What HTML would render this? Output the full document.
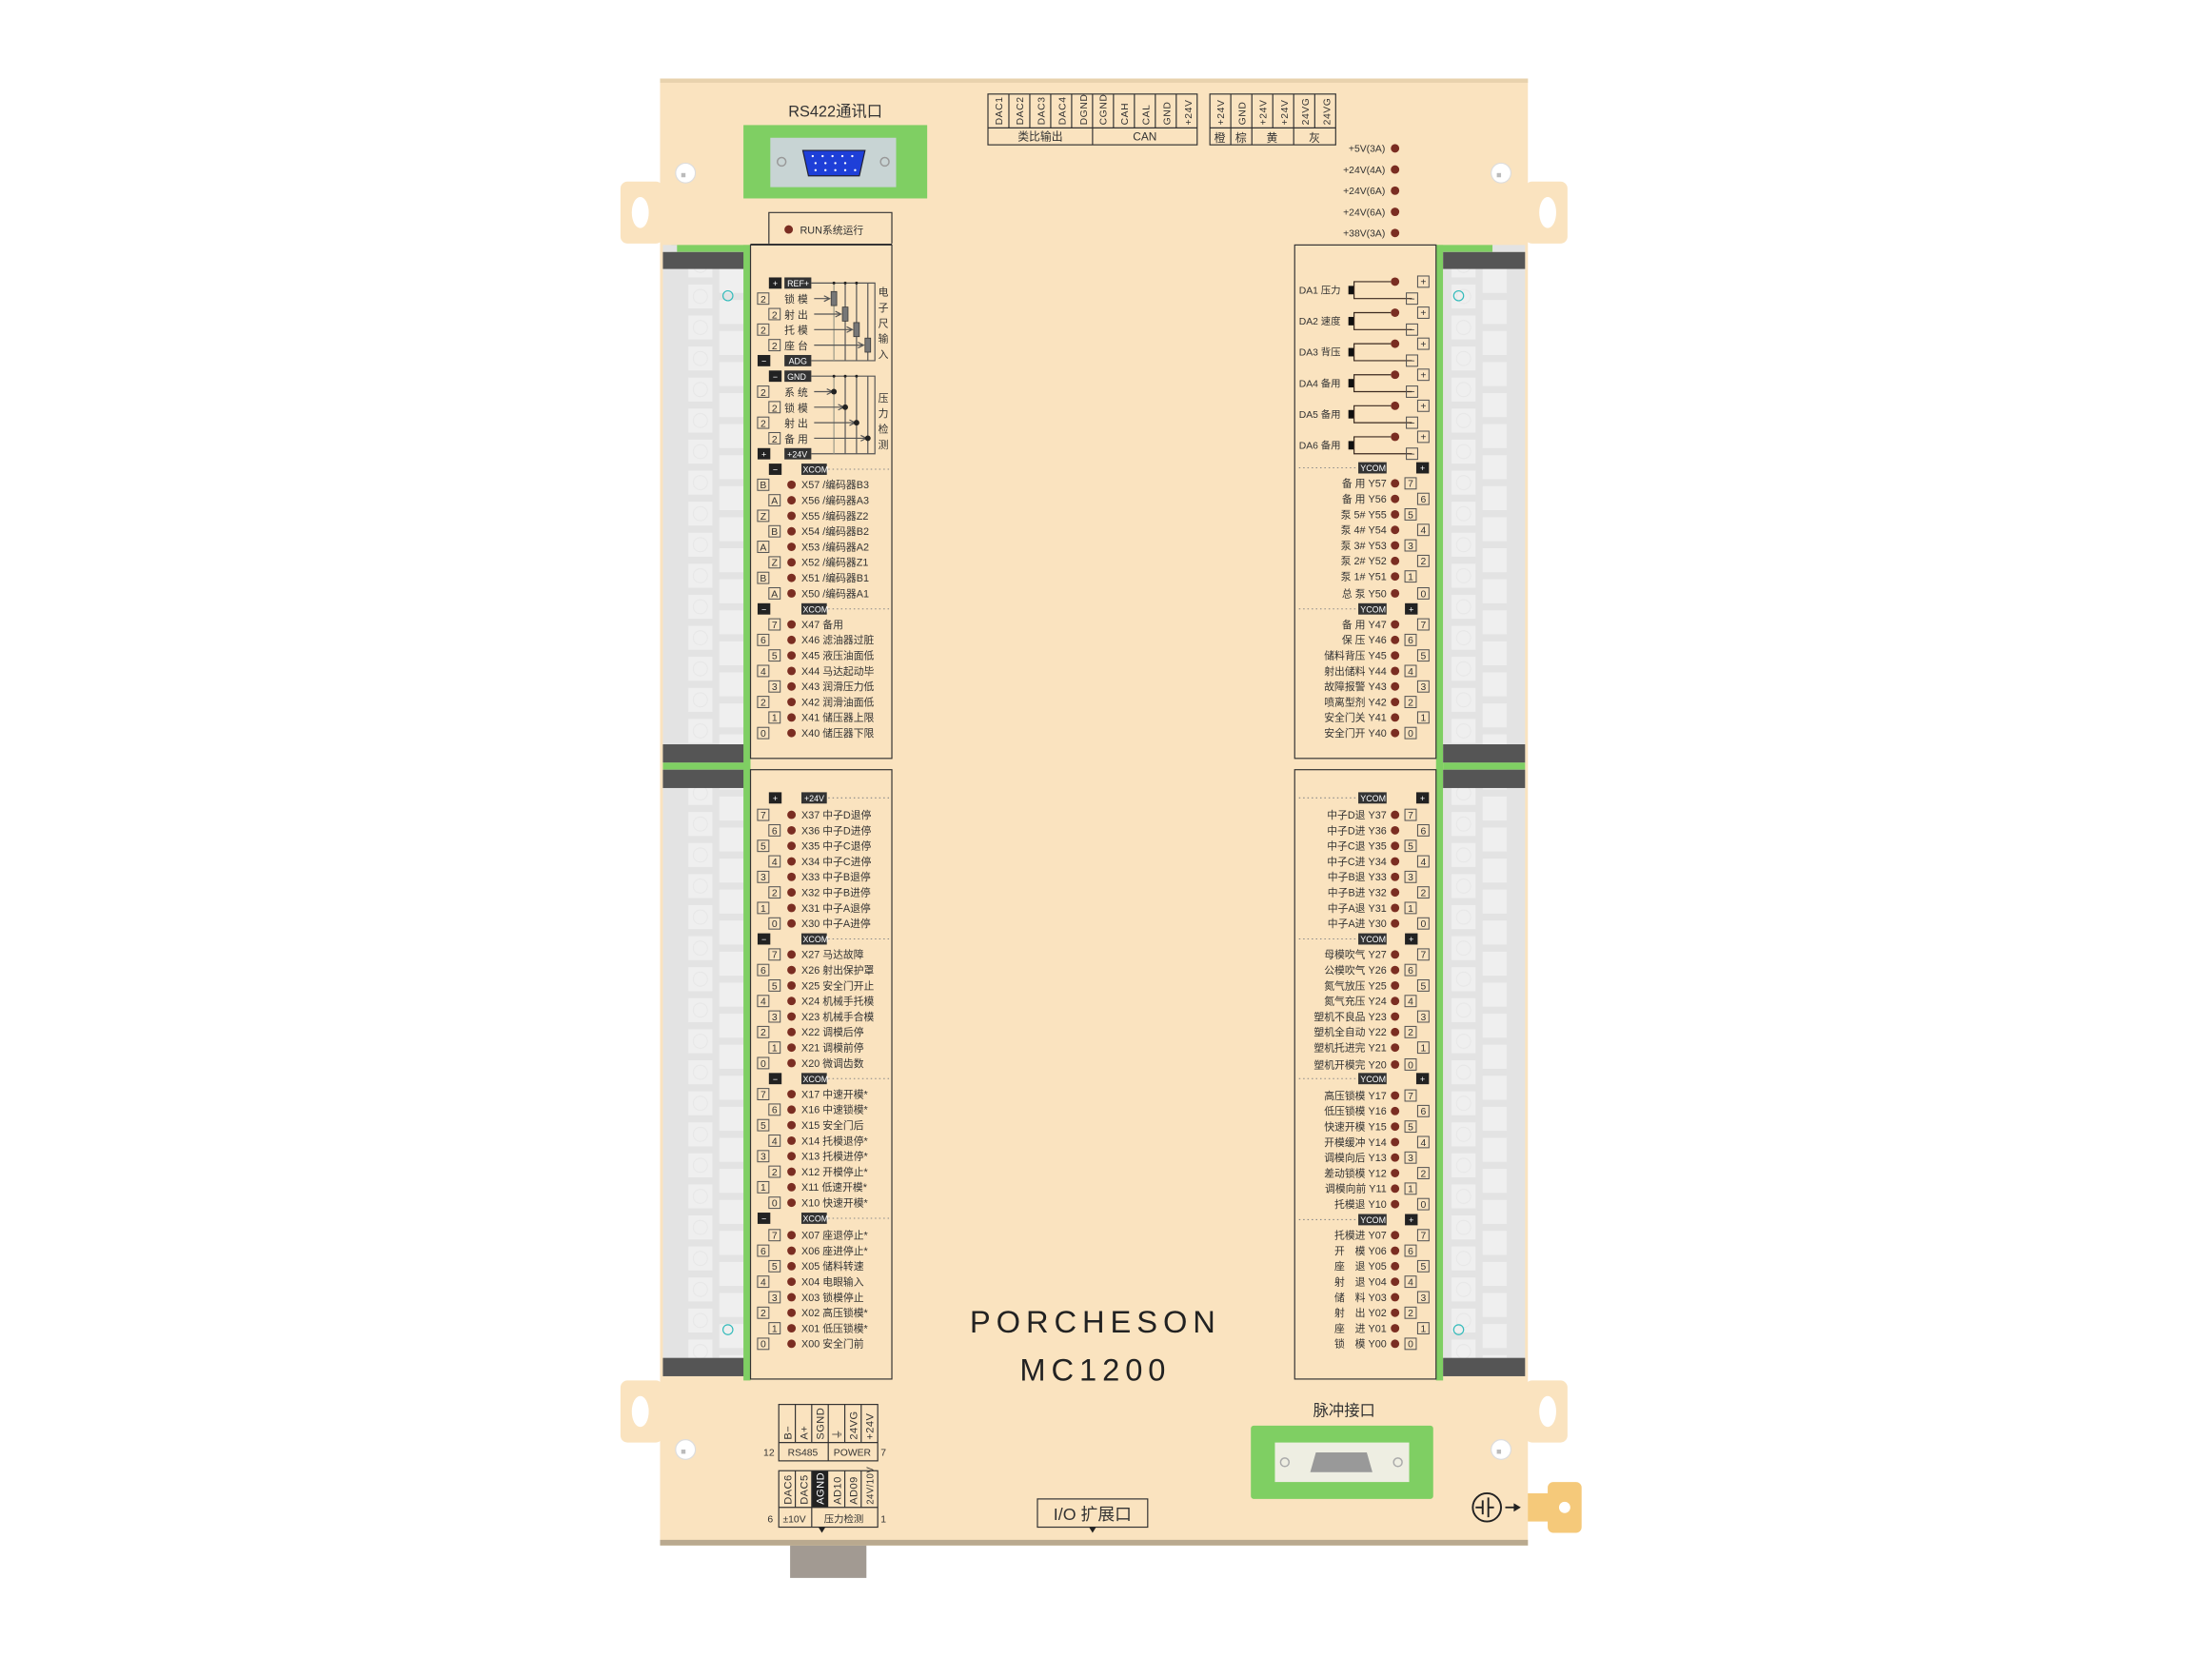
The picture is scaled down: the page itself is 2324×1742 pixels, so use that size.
<!DOCTYPE html>
<html><head><meta charset="utf-8"><style>
html,body{margin:0;padding:0;background:#fff}
svg{display:block}
.t{font-family:"Liberation Sans","Noto Sans CJK SC",sans-serif;font-size:7.3px;fill:#333}
.s{font-family:"Liberation Sans","Noto Sans CJK SC",sans-serif;font-size:6px;fill:#fff}
.c{font-family:"Liberation Sans",sans-serif;font-size:7px;fill:#333;text-anchor:middle}
.v{font-family:"Liberation Sans",sans-serif;font-size:7px;fill:#333;letter-spacing:.4px}
.bx{fill:none;stroke:#555;stroke-width:.7}
.d{fill:#7a2d22}
.ln{stroke:#3a2a20;stroke-width:.8;fill:none}
.dot{stroke:#888;stroke-width:.7;stroke-dasharray:1 2}
</style></head><body>
<svg width="2324" height="1742" viewBox="0 0 2324 1742" xmlns="http://www.w3.org/2000/svg">
<defs>
<pattern id="tp" x="0" y="0" width="60" height="22" patternUnits="userSpaceOnUse">
<rect x="0" y="0" width="60" height="22" fill="#e3e3e3"/>
<rect x="8" y="3" width="17" height="17" fill="#efefef"/>
<rect x="30" y="-8" width="17" height="17" fill="#efefef"/>
<rect x="30" y="14" width="17" height="17" fill="#efefef"/>
<circle cx="16.5" cy="11.5" r="5" fill="none" stroke="#e6e6e6" stroke-width=".6"/>
</pattern>
</defs>
<g transform="matrix(1.485 0 0 1.482 -1.5 1)">
<!-- tabs -->
<rect x="440" y="128" width="30" height="44" rx="5" fill="#fae3bf"/>
<ellipse cx="454" cy="150" rx="6" ry="11" fill="#fff"/>
<rect x="440" y="978" width="30" height="44" rx="5" fill="#fae3bf"/>
<ellipse cx="454" cy="1000" rx="6" ry="11" fill="#fff"/>
<rect x="1080" y="128" width="30" height="44" rx="5" fill="#fae3bf"/>
<ellipse cx="1096" cy="150" rx="6" ry="11" fill="#fff"/>
<rect x="1080" y="978" width="30" height="44" rx="5" fill="#fae3bf"/>
<ellipse cx="1096" cy="1000" rx="6" ry="11" fill="#fff"/>
<!-- ground tab -->
<rect x="1080" y="1058" width="20" height="20" fill="#f5c97a"/>
<rect x="1096" y="1050" width="24" height="36" rx="4" fill="#f5c97a"/>
<circle cx="1108" cy="1068" r="4" fill="#fff"/>
<!-- bottom block -->
<rect x="560" y="1093" width="54" height="25" fill="#a29a92"/>
<!-- board -->
<rect x="468" y="55" width="614" height="1040" fill="#fae3bf"/>
<rect x="468" y="55" width="614" height="3" fill="#e8d2ad"/>
<rect x="468" y="1091" width="614" height="4" fill="#b9a98f"/>
<!-- screws -->
<g fill="#fff" stroke="#ddd" stroke-width=".8">
<circle cx="486" cy="122" r="7"/><circle cx="1063" cy="122" r="7"/>
<circle cx="486" cy="1027" r="7"/><circle cx="1063" cy="1027" r="7"/></g>
<g fill="#bbb"><rect x="483" y="122" width="3" height="3"/><rect x="1060" y="122" width="3" height="3"/><rect x="483" y="1027" width="3" height="3"/><rect x="1060" y="1027" width="3" height="3"/></g>

<!-- terminal strips -->
<g>
<rect x="476" y="173" width="56" height="5" fill="#7fcf63"/>
<rect x="470" y="173" width="10" height="5" fill="#e3e3e3"/>
<rect x="470" y="178" width="58" height="362" fill="url(#tp)"/>
<rect x="470" y="178" width="58" height="12" fill="#555"/>
<rect x="470" y="527" width="58" height="13" fill="#555"/>
<rect x="470" y="540" width="58" height="5" fill="#7fcf63"/>
<rect x="470" y="545" width="58" height="430" fill="url(#tp)"/>
<rect x="470" y="545" width="58" height="13" fill="#555"/>
<rect x="470" y="962" width="58" height="13" fill="#555"/>
<rect x="527" y="173" width="5" height="805" fill="#7fcf63"/>
<rect x="1017" y="173" width="5" height="805" fill="#7fcf63"/>
<rect x="1017" y="173" width="40" height="5" fill="#7fcf63"/>
<rect x="1057" y="173" width="23" height="5" fill="#e3e3e3"/>
<rect x="1022" y="178" width="58" height="362" fill="url(#tp)"/>
<rect x="1022" y="178" width="58" height="12" fill="#555"/>
<rect x="1022" y="527" width="58" height="13" fill="#555"/>
<rect x="1022" y="540" width="58" height="5" fill="#7fcf63"/>
<rect x="1022" y="545" width="58" height="430" fill="url(#tp)"/>
<rect x="1022" y="545" width="58" height="13" fill="#555"/>
<rect x="1022" y="962" width="58" height="13" fill="#555"/>
<g fill="none" stroke="#3bb" stroke-width=".8">
<circle cx="516" cy="209" r="3.5"/><circle cx="516" cy="942" r="3.5"/><circle cx="1033" cy="209" r="3.5"/><circle cx="1033" cy="942" r="3.5"/></g>
</g>

<!-- RS422 -->
<text x="592" y="82" class="t" style="font-size:11px;text-anchor:middle">RS422通讯口</text>
<rect x="527" y="88" width="130" height="52" fill="#7fcf63"/>
<rect x="546" y="97" width="89" height="35" fill="#c8d4d4"/>
<circle cx="554" cy="114" r="3" fill="none" stroke="#999"/><circle cx="627" cy="114" r="3" fill="none" stroke="#999"/>
<path d="M569 106 H613 L609 124 H573 Z" fill="#1e3fd8" stroke="#223" stroke-width=".8"/>
<g fill="#fff"><circle cx="576" cy="110" r=".8"/><circle cx="583" cy="110" r=".8"/><circle cx="590" cy="110" r=".8"/><circle cx="597" cy="110" r=".8"/><circle cx="604" cy="110" r=".8"/>
<circle cx="578" cy="115" r=".8"/><circle cx="585" cy="115" r=".8"/><circle cx="592" cy="115" r=".8"/><circle cx="599" cy="115" r=".8"/>
<circle cx="578" cy="120" r=".8"/><circle cx="585" cy="120" r=".8"/><circle cx="592" cy="120" r=".8"/><circle cx="599" cy="120" r=".8"/><circle cx="606" cy="120" r=".8"/></g>

<!-- top tables -->
<g class="ln" style="stroke:#333">
<rect x="700" y="66" width="148" height="36"/><line x1="700" y1="90" x2="848" y2="90"/>
<line x1="714.8" y1="66" x2="714.8" y2="90"/><line x1="729.6" y1="66" x2="729.6" y2="90"/><line x1="744.4" y1="66" x2="744.4" y2="90"/><line x1="759.2" y1="66" x2="759.2" y2="90"/>
<line x1="774" y1="66" x2="774" y2="102"/><line x1="788.8" y1="66" x2="788.8" y2="90"/><line x1="803.6" y1="66" x2="803.6" y2="90"/><line x1="818.4" y1="66" x2="818.4" y2="90"/><line x1="833.2" y1="66" x2="833.2" y2="90"/>
<rect x="857" y="66" width="89" height="36"/><line x1="857" y1="90" x2="946" y2="90"/>
<line x1="871.8" y1="66" x2="871.8" y2="102"/><line x1="886.7" y1="66" x2="886.7" y2="102"/><line x1="901.5" y1="66" x2="901.5" y2="90"/><line x1="916.3" y1="66" x2="916.3" y2="102"/><line x1="931.2" y1="66" x2="931.2" y2="90"/>
</g>
<g class="v">
<text transform="translate(710,88) rotate(-90)">DAC1</text><text transform="translate(725,88) rotate(-90)">DAC2</text><text transform="translate(740,88) rotate(-90)">DAC3</text><text transform="translate(755,88) rotate(-90)">DAC4</text><text transform="translate(770,88) rotate(-90)">DGND</text>
<text transform="translate(784,88) rotate(-90)">CGND</text><text transform="translate(799,88) rotate(-90)">CAH</text><text transform="translate(814,88) rotate(-90)">CAL</text><text transform="translate(829,88) rotate(-90)">GND</text><text transform="translate(844,88) rotate(-90)">+24V</text>
<text transform="translate(867,88) rotate(-90)">+24V</text><text transform="translate(882,88) rotate(-90)">GND</text><text transform="translate(897,88) rotate(-90)">+24V</text><text transform="translate(912,88) rotate(-90)">+24V</text><text transform="translate(927,88) rotate(-90)">24VG</text><text transform="translate(942,88) rotate(-90)">24VG</text>
</g>
<g class="c" style="font-size:8px"><text x="737" y="99">类比输出</text><text x="811" y="99">CAN</text><text x="864" y="100">橙</text><text x="879" y="100">棕</text><text x="901" y="100">黄</text><text x="931" y="100">灰</text></g>

<!-- power LEDs -->
<g class="t" style="font-size:7px;text-anchor:end">
<text x="981" y="107">+5V(3A)</text><text x="981" y="122">+24V(4A)</text><text x="981" y="137">+24V(6A)</text><text x="981" y="152">+24V(6A)</text><text x="981" y="167">+38V(3A)</text></g>
<g class="d"><circle cx="988" cy="104.5" r="3"/><circle cx="988" cy="119.5" r="3"/><circle cx="988" cy="134.5" r="3"/><circle cx="988" cy="149.5" r="3"/><circle cx="988" cy="164.5" r="3"/></g>

<!-- RUN box -->
<g class="ln" style="stroke:#333"><path d="M545 172 V150 H632 V172"/><line x1="532" y1="172.5" x2="632" y2="172.5"/>
<rect x="532" y="173" width="100" height="364"/><rect x="532" y="545" width="100" height="432"/>
<rect x="917" y="173" width="100" height="364"/><rect x="917" y="545" width="100" height="432"/></g>
<circle cx="559" cy="162" r="3" class="d"/><text x="567" y="165" class="t">RUN系统运行</text>

<!-- ruler section -->
<g>
<rect x="545" y="196" width="9" height="8" fill="#222"/><text x="549.5" y="202.5" class="s" style="text-anchor:middle">+</text>
<rect x="556" y="196" width="19" height="8" fill="#333"/><text x="558" y="202.5" class="s">REF+</text>
<rect x="537" y="251" width="9" height="8" fill="#222"/><text x="541.5" y="257.5" class="s" style="text-anchor:middle">−</text>
<rect x="556" y="251" width="19" height="8" fill="#333"/><text x="559" y="257.5" class="s">ADG</text>
<rect x="545" y="262" width="9" height="8" fill="#222"/><text x="549.5" y="268.5" class="s" style="text-anchor:middle">−</text>
<rect x="556" y="262" width="19" height="8" fill="#333"/><text x="558" y="268.5" class="s">GND</text>
<rect x="537" y="317" width="9" height="8" fill="#222"/><text x="541.5" y="323.5" class="s" style="text-anchor:middle">+</text>
<rect x="556" y="317" width="19" height="8" fill="#333"/><text x="558" y="323.5" class="s">+24V</text>
<g class="bx"><rect x="537" y="207" width="8" height="8"/><rect x="545" y="218" width="8" height="8"/><rect x="537" y="229" width="8" height="8"/><rect x="545" y="240" width="8" height="8"/>
<rect x="537" y="273" width="8" height="8"/><rect x="545" y="284" width="8" height="8"/><rect x="537" y="295" width="8" height="8"/><rect x="545" y="306" width="8" height="8"/></g>
<g class="c"><text x="541" y="214">2</text><text x="549" y="225">2</text><text x="541" y="236">2</text><text x="549" y="247">2</text><text x="541" y="280">2</text><text x="549" y="291">2</text><text x="541" y="302">2</text><text x="549" y="313">2</text></g>
<g class="t"><text x="556" y="214">锁 模</text><text x="556" y="225">射 出</text><text x="556" y="236">托 模</text><text x="556" y="247">座 台</text><text x="556" y="280">系 统</text><text x="556" y="291">锁 模</text><text x="556" y="302">射 出</text><text x="556" y="313">备 用</text></g>
<g class="ln" style="stroke:#555">
<path d="M575 200 H620 V255 H575"/><path d="M575 266 H620 V321 H575"/>
<line x1="591" y1="200" x2="591" y2="255" style="stroke:#998"/><line x1="599" y1="200" x2="599" y2="255"/><line x1="607" y1="200" x2="607" y2="255"/><line x1="615" y1="200" x2="615" y2="255"/>
<line x1="591" y1="266" x2="591" y2="321" style="stroke:#998"/><line x1="599" y1="266" x2="599" y2="321"/><line x1="607" y1="266" x2="607" y2="321"/><line x1="615" y1="266" x2="615" y2="321"/>
<path d="M577 211 H588 M584 209 L588 211 L584 213"/><path d="M577 222 H596 M592 220 L596 222 L592 224"/><path d="M577 233 H604 M600 231 L604 233 L600 235"/><path d="M577 244 H612 M608 242 L612 244 L608 246"/>
<path d="M577 277 H590 M586 275 L590 277 L586 279"/><path d="M577 288 H598 M594 286 L598 288 L594 290"/><path d="M577 299 H606 M602 297 L606 299 L602 301"/><path d="M577 310 H614 M610 308 L614 310 L610 312"/>
</g>
<g fill="#777" stroke="#333" stroke-width=".5"><rect x="589" y="206" width="4" height="10"/><rect x="597" y="217" width="4" height="10"/><rect x="605" y="228" width="4" height="10"/><rect x="613" y="239" width="4" height="10"/></g>
<g fill="#222"><circle cx="591" cy="277" r="2"/><circle cx="599" cy="288" r="2"/><circle cx="607" cy="299" r="2"/><circle cx="615" cy="310" r="2"/>
<circle cx="591" cy="200" r="1"/><circle cx="599" cy="200" r="1"/><circle cx="607" cy="200" r="1"/><circle cx="591" cy="266" r="1"/><circle cx="599" cy="266" r="1"/><circle cx="607" cy="266" r="1"/></g>
<g class="t" style="text-anchor:middle"><text x="626" y="209">电</text><text x="626" y="220">子</text><text x="626" y="231">尺</text><text x="626" y="242">输</text><text x="626" y="253">入</text>
<text x="626" y="284">压</text><text x="626" y="295">力</text><text x="626" y="306">检</text><text x="626" y="317">测</text></g>
</g>

<!-- XCOM headers left -->
<g>
<rect x="545" y="328" width="9" height="8" fill="#222"/><text x="549.5" y="334.5" class="s" style="text-anchor:middle">−</text>
<rect x="568" y="328" width="18" height="8" fill="#333"/><text x="569" y="334.5" class="s">XCOM</text><line x1="587" y1="332" x2="631" y2="332" class="dot"/>
<rect x="537" y="427" width="9" height="8" fill="#222"/><text x="541.5" y="433.5" class="s" style="text-anchor:middle">−</text>
<rect x="568" y="427" width="18" height="8" fill="#333"/><text x="569" y="433.5" class="s">XCOM</text><line x1="587" y1="431" x2="631" y2="431" class="dot"/>
<rect x="545" y="561" width="9" height="8" fill="#222"/><text x="549.5" y="567.5" class="s" style="text-anchor:middle">+</text>
<rect x="568" y="561" width="18" height="8" fill="#333"/><text x="570" y="567.5" class="s">+24V</text><line x1="587" y1="565" x2="631" y2="565" class="dot"/>
<rect x="537" y="661" width="9" height="8" fill="#222"/><text x="541.5" y="667.5" class="s" style="text-anchor:middle">−</text>
<rect x="568" y="661" width="18" height="8" fill="#333"/><text x="569" y="667.5" class="s">XCOM</text><line x1="587" y1="665" x2="631" y2="665" class="dot"/>
<rect x="545" y="760" width="9" height="8" fill="#222"/><text x="549.5" y="766.5" class="s" style="text-anchor:middle">−</text>
<rect x="568" y="760" width="18" height="8" fill="#333"/><text x="569" y="766.5" class="s">XCOM</text><line x1="587" y1="764" x2="631" y2="764" class="dot"/>
<rect x="537" y="859" width="9" height="8" fill="#222"/><text x="541.5" y="865.5" class="s" style="text-anchor:middle">−</text>
<rect x="568" y="859" width="18" height="8" fill="#333"/><text x="569" y="865.5" class="s">XCOM</text><line x1="587" y1="863" x2="631" y2="863" class="dot"/>
</g>

<!-- left rows: boxes -->
<g class="bx">
<rect x="537" y="339" width="8" height="8"/><rect x="545" y="350" width="8" height="8"/><rect x="537" y="361" width="8" height="8"/><rect x="545" y="372" width="8" height="8"/><rect x="537" y="383" width="8" height="8"/><rect x="545" y="394" width="8" height="8"/><rect x="537" y="405" width="8" height="8"/><rect x="545" y="416" width="8" height="8"/>
<rect x="545" y="438" width="8" height="8"/><rect x="537" y="449" width="8" height="8"/><rect x="545" y="460" width="8" height="8"/><rect x="537" y="471" width="8" height="8"/><rect x="545" y="482" width="8" height="8"/><rect x="537" y="493" width="8" height="8"/><rect x="545" y="504" width="8" height="8"/><rect x="537" y="515" width="8" height="8"/>
<rect x="537" y="573" width="8" height="8"/><rect x="545" y="584" width="8" height="8"/><rect x="537" y="595" width="8" height="8"/><rect x="545" y="606" width="8" height="8"/><rect x="537" y="617" width="8" height="8"/><rect x="545" y="628" width="8" height="8"/><rect x="537" y="639" width="8" height="8"/><rect x="545" y="650" width="8" height="8"/>
<rect x="545" y="672" width="8" height="8"/><rect x="537" y="683" width="8" height="8"/><rect x="545" y="694" width="8" height="8"/><rect x="537" y="705" width="8" height="8"/><rect x="545" y="716" width="8" height="8"/><rect x="537" y="727" width="8" height="8"/><rect x="545" y="738" width="8" height="8"/><rect x="537" y="749" width="8" height="8"/>
<rect x="537" y="771" width="8" height="8"/><rect x="545" y="782" width="8" height="8"/><rect x="537" y="793" width="8" height="8"/><rect x="545" y="804" width="8" height="8"/><rect x="537" y="815" width="8" height="8"/><rect x="545" y="826" width="8" height="8"/><rect x="537" y="837" width="8" height="8"/><rect x="545" y="848" width="8" height="8"/>
<rect x="545" y="871" width="8" height="8"/><rect x="537" y="882" width="8" height="8"/><rect x="545" y="893" width="8" height="8"/><rect x="537" y="904" width="8" height="8"/><rect x="545" y="915" width="8" height="8"/><rect x="537" y="926" width="8" height="8"/><rect x="545" y="937" width="8" height="8"/><rect x="537" y="948" width="8" height="8"/>
</g>
<g class="c">
<text x="541" y="345.6">B</text><text x="549" y="356.6">A</text><text x="541" y="367.6">Z</text><text x="549" y="378.6">B</text><text x="541" y="389.6">A</text><text x="549" y="400.6">Z</text><text x="541" y="411.6">B</text><text x="549" y="422.6">A</text>
<text x="549" y="444.6">7</text><text x="541" y="455.6">6</text><text x="549" y="466.6">5</text><text x="541" y="477.6">4</text><text x="549" y="488.6">3</text><text x="541" y="499.6">2</text><text x="549" y="510.6">1</text><text x="541" y="521.6">0</text>
<text x="541" y="579.6">7</text><text x="549" y="590.6">6</text><text x="541" y="601.6">5</text><text x="549" y="612.6">4</text><text x="541" y="623.6">3</text><text x="549" y="634.6">2</text><text x="541" y="645.6">1</text><text x="549" y="656.6">0</text>
<text x="549" y="678.6">7</text><text x="541" y="689.6">6</text><text x="549" y="700.6">5</text><text x="541" y="711.6">4</text><text x="549" y="722.6">3</text><text x="541" y="733.6">2</text><text x="549" y="744.6">1</text><text x="541" y="755.6">0</text>
<text x="541" y="777.6">7</text><text x="549" y="788.6">6</text><text x="541" y="799.6">5</text><text x="549" y="810.6">4</text><text x="541" y="821.6">3</text><text x="549" y="832.6">2</text><text x="541" y="843.6">1</text><text x="549" y="854.6">0</text>
<text x="549" y="877.6">7</text><text x="541" y="888.6">6</text><text x="549" y="899.6">5</text><text x="541" y="910.6">4</text><text x="549" y="921.6">3</text><text x="541" y="932.6">2</text><text x="549" y="943.6">1</text><text x="541" y="954.6">0</text>
</g>
<g class="d">
<circle cx="561" cy="343" r="3"/><circle cx="561" cy="354" r="3"/><circle cx="561" cy="365" r="3"/><circle cx="561" cy="376" r="3"/><circle cx="561" cy="387" r="3"/><circle cx="561" cy="398" r="3"/><circle cx="561" cy="409" r="3"/><circle cx="561" cy="420" r="3"/>
<circle cx="561" cy="442" r="3"/><circle cx="561" cy="453" r="3"/><circle cx="561" cy="464" r="3"/><circle cx="561" cy="475" r="3"/><circle cx="561" cy="486" r="3"/><circle cx="561" cy="497" r="3"/><circle cx="561" cy="508" r="3"/><circle cx="561" cy="519" r="3"/>
<circle cx="561" cy="577" r="3"/><circle cx="561" cy="588" r="3"/><circle cx="561" cy="599" r="3"/><circle cx="561" cy="610" r="3"/><circle cx="561" cy="621" r="3"/><circle cx="561" cy="632" r="3"/><circle cx="561" cy="643" r="3"/><circle cx="561" cy="654" r="3"/>
<circle cx="561" cy="676" r="3"/><circle cx="561" cy="687" r="3"/><circle cx="561" cy="698" r="3"/><circle cx="561" cy="709" r="3"/><circle cx="561" cy="720" r="3"/><circle cx="561" cy="731" r="3"/><circle cx="561" cy="742" r="3"/><circle cx="561" cy="753" r="3"/>
<circle cx="561" cy="775" r="3"/><circle cx="561" cy="786" r="3"/><circle cx="561" cy="797" r="3"/><circle cx="561" cy="808" r="3"/><circle cx="561" cy="819" r="3"/><circle cx="561" cy="830" r="3"/><circle cx="561" cy="841" r="3"/><circle cx="561" cy="852" r="3"/>
<circle cx="561" cy="875" r="3"/><circle cx="561" cy="886" r="3"/><circle cx="561" cy="897" r="3"/><circle cx="561" cy="908" r="3"/><circle cx="561" cy="919" r="3"/><circle cx="561" cy="930" r="3"/><circle cx="561" cy="941" r="3"/><circle cx="561" cy="952" r="3"/>
</g>
<g class="t">
<text x="568" y="345.6">X57 /编码器B3</text><text x="568" y="356.6">X56 /编码器A3</text><text x="568" y="367.6">X55 /编码器Z2</text><text x="568" y="378.6">X54 /编码器B2</text><text x="568" y="389.6">X53 /编码器A2</text><text x="568" y="400.6">X52 /编码器Z1</text><text x="568" y="411.6">X51 /编码器B1</text><text x="568" y="422.6">X50 /编码器A1</text>
<text x="568" y="444.6">X47  备用</text><text x="568" y="455.6">X46  滤油器过脏</text><text x="568" y="466.6">X45  液压油面低</text><text x="568" y="477.6">X44  马达起动毕</text><text x="568" y="488.6">X43  润滑压力低</text><text x="568" y="499.6">X42  润滑油面低</text><text x="568" y="510.6">X41  储压器上限</text><text x="568" y="521.6">X40  储压器下限</text>
<text x="568" y="579.6">X37  中子D退停</text><text x="568" y="590.6">X36  中子D进停</text><text x="568" y="601.6">X35  中子C退停</text><text x="568" y="612.6">X34  中子C进停</text><text x="568" y="623.6">X33  中子B退停</text><text x="568" y="634.6">X32  中子B进停</text><text x="568" y="645.6">X31  中子A退停</text><text x="568" y="656.6">X30  中子A进停</text>
<text x="568" y="678.6">X27  马达故障</text><text x="568" y="689.6">X26  射出保护罩</text><text x="568" y="700.6">X25  安全门开止</text><text x="568" y="711.6">X24  机械手托模</text><text x="568" y="722.6">X23  机械手合模</text><text x="568" y="733.6">X22  调模后停</text><text x="568" y="744.6">X21  调模前停</text><text x="568" y="755.6">X20  微调齿数</text>
<text x="568" y="777.6">X17  中速开模*</text><text x="568" y="788.6">X16  中速锁模*</text><text x="568" y="799.6">X15  安全门后</text><text x="568" y="810.6">X14  托模退停*</text><text x="568" y="821.6">X13  托模进停*</text><text x="568" y="832.6">X12  开模停止*</text><text x="568" y="843.6">X11  低速开模*</text><text x="568" y="854.6">X10  快速开模*</text>
<text x="568" y="877.6">X07  座退停止*</text><text x="568" y="888.6">X06  座进停止*</text><text x="568" y="899.6">X05  储料转速</text><text x="568" y="910.6">X04  电眼输入</text><text x="568" y="921.6">X03  锁模停止</text><text x="568" y="932.6">X02  高压锁模*</text><text x="568" y="943.6">X01  低压锁模*</text><text x="568" y="954.6">X00  安全门前</text>
</g>

<!-- right DA section -->
<g class="t" style="font-size:7px"><text x="920" y="207.5">DA1  压力</text><text x="920" y="229.5">DA2  速度</text><text x="920" y="251.5">DA3  背压</text><text x="920" y="273.5">DA4  备用</text><text x="920" y="295.5">DA5  备用</text><text x="920" y="317.5">DA6  备用</text></g>
<g fill="#111"><rect x="955" y="202" width="4" height="6"/><rect x="955" y="224" width="4" height="6"/><rect x="955" y="246" width="4" height="6"/><rect x="955" y="268" width="4" height="6"/><rect x="955" y="290" width="4" height="6"/><rect x="955" y="312" width="4" height="6"/></g>
<g class="ln">
<path d="M959 205 V199 H985 M959 205 V211 H1000"/><path d="M959 227 V221 H985 M959 227 V233 H1000"/><path d="M959 249 V243 H985 M959 249 V255 H1000"/><path d="M959 271 V265 H985 M959 271 V277 H1000"/><path d="M959 293 V287 H985 M959 293 V299 H1000"/><path d="M959 315 V309 H985 M959 315 V321 H1000"/></g>
<g class="d"><circle cx="988" cy="199" r="3"/><circle cx="988" cy="221" r="3"/><circle cx="988" cy="243" r="3"/><circle cx="988" cy="265" r="3"/><circle cx="988" cy="287" r="3"/><circle cx="988" cy="309" r="3"/></g>
<g class="bx"><rect x="1004" y="195" width="8" height="8"/><rect x="996" y="207" width="8" height="8"/><rect x="1004" y="217" width="8" height="8"/><rect x="996" y="229" width="8" height="8"/><rect x="1004" y="239" width="8" height="8"/><rect x="996" y="251" width="8" height="8"/><rect x="1004" y="261" width="8" height="8"/><rect x="996" y="273" width="8" height="8"/><rect x="1004" y="283" width="8" height="8"/><rect x="996" y="295" width="8" height="8"/><rect x="1004" y="305" width="8" height="8"/><rect x="996" y="317" width="8" height="8"/></g>
<g class="c"><text x="1008" y="201.5">+</text><text x="1000" y="213.5">−</text><text x="1008" y="223.5">+</text><text x="1000" y="235.5">−</text><text x="1008" y="245.5">+</text><text x="1000" y="257.5">−</text><text x="1008" y="267.5">+</text><text x="1000" y="279.5">−</text><text x="1008" y="289.5">+</text><text x="1000" y="301.5">−</text><text x="1008" y="311.5">+</text><text x="1000" y="323.5">−</text></g>

<!-- YCOM headers -->
<g>
<line x1="920" y1="331" x2="962" y2="331" class="dot"/><rect x="962" y="327" width="20" height="8" fill="#333"/><text x="963.5" y="333.5" class="s">YCOM</text><rect x="1003" y="327" width="9" height="8" fill="#222"/><text x="1007.5" y="333.5" class="s" style="text-anchor:middle">+</text>
<line x1="920" y1="431" x2="962" y2="431" class="dot"/><rect x="962" y="427" width="20" height="8" fill="#333"/><text x="963.5" y="433.5" class="s">YCOM</text><rect x="995" y="427" width="9" height="8" fill="#222"/><text x="999.5" y="433.5" class="s" style="text-anchor:middle">+</text>
<line x1="920" y1="565" x2="962" y2="565" class="dot"/><rect x="962" y="561" width="20" height="8" fill="#333"/><text x="963.5" y="567.5" class="s">YCOM</text><rect x="1003" y="561" width="9" height="8" fill="#222"/><text x="1007.5" y="567.5" class="s" style="text-anchor:middle">+</text>
<line x1="920" y1="665" x2="962" y2="665" class="dot"/><rect x="962" y="661" width="20" height="8" fill="#333"/><text x="963.5" y="667.5" class="s">YCOM</text><rect x="995" y="661" width="9" height="8" fill="#222"/><text x="999.5" y="667.5" class="s" style="text-anchor:middle">+</text>
<line x1="920" y1="764" x2="962" y2="764" class="dot"/><rect x="962" y="760" width="20" height="8" fill="#333"/><text x="963.5" y="766.5" class="s">YCOM</text><rect x="1003" y="760" width="9" height="8" fill="#222"/><text x="1007.5" y="766.5" class="s" style="text-anchor:middle">+</text>
<line x1="920" y1="864" x2="962" y2="864" class="dot"/><rect x="962" y="860" width="20" height="8" fill="#333"/><text x="963.5" y="866.5" class="s">YCOM</text><rect x="995" y="860" width="9" height="8" fill="#222"/><text x="999.5" y="866.5" class="s" style="text-anchor:middle">+</text>
</g>

<!-- right rows -->
<g class="t" style="text-anchor:end">
<text x="982" y="344.6">备 用 Y57</text><text x="982" y="355.6">备 用 Y56</text><text x="982" y="366.6">泵 5# Y55</text><text x="982" y="377.6">泵 4# Y54</text><text x="982" y="388.6">泵 3# Y53</text><text x="982" y="399.6">泵 2# Y52</text><text x="982" y="410.6">泵 1# Y51</text><text x="982" y="422.6">总 泵 Y50</text>
<text x="982" y="444.6">备 用 Y47</text><text x="982" y="455.6">保 压 Y46</text><text x="982" y="466.6">储料背压 Y45</text><text x="982" y="477.6">射出储料 Y44</text><text x="982" y="488.6">故障报警 Y43</text><text x="982" y="499.6">喷离型剂 Y42</text><text x="982" y="510.6">安全门关 Y41</text><text x="982" y="521.6">安全门开 Y40</text>
<text x="982" y="579.6">中子D退 Y37</text><text x="982" y="590.6">中子D进 Y36</text><text x="982" y="601.6">中子C退 Y35</text><text x="982" y="612.6">中子C进 Y34</text><text x="982" y="623.6">中子B退 Y33</text><text x="982" y="634.6">中子B进 Y32</text><text x="982" y="645.6">中子A退 Y31</text><text x="982" y="656.6">中子A进 Y30</text>
<text x="982" y="678.6">母模吹气 Y27</text><text x="982" y="689.6">公模吹气 Y26</text><text x="982" y="700.6">氮气放压 Y25</text><text x="982" y="711.6">氮气充压 Y24</text><text x="982" y="722.6">塑机不良品 Y23</text><text x="982" y="733.6">塑机全自动 Y22</text><text x="982" y="744.6">塑机托进完 Y21</text><text x="982" y="756.6">塑机开模完 Y20</text>
<text x="982" y="778.6">高压锁模 Y17</text><text x="982" y="789.6">低压锁模 Y16</text><text x="982" y="800.6">快速开模 Y15</text><text x="982" y="811.6">开模缓冲 Y14</text><text x="982" y="822.6">调模向后 Y13</text><text x="982" y="833.6">差动锁模 Y12</text><text x="982" y="844.6">调模向前 Y11</text><text x="982" y="855.6">托模退 Y10</text>
<text x="982" y="877.6">托模进 Y07</text><text x="982" y="888.6">开　模 Y06</text><text x="982" y="899.6">座　退 Y05</text><text x="982" y="910.6">射　退 Y04</text><text x="982" y="921.6">储　料 Y03</text><text x="982" y="932.6">射　出 Y02</text><text x="982" y="943.6">座　进 Y01</text><text x="982" y="954.6">锁　模 Y00</text>
</g>
<g class="d">
<circle cx="988" cy="342" r="3"/><circle cx="988" cy="353" r="3"/><circle cx="988" cy="364" r="3"/><circle cx="988" cy="375" r="3"/><circle cx="988" cy="386" r="3"/><circle cx="988" cy="397" r="3"/><circle cx="988" cy="408" r="3"/><circle cx="988" cy="420" r="3"/>
<circle cx="988" cy="442" r="3"/><circle cx="988" cy="453" r="3"/><circle cx="988" cy="464" r="3"/><circle cx="988" cy="475" r="3"/><circle cx="988" cy="486" r="3"/><circle cx="988" cy="497" r="3"/><circle cx="988" cy="508" r="3"/><circle cx="988" cy="519" r="3"/>
<circle cx="988" cy="577" r="3"/><circle cx="988" cy="588" r="3"/><circle cx="988" cy="599" r="3"/><circle cx="988" cy="610" r="3"/><circle cx="988" cy="621" r="3"/><circle cx="988" cy="632" r="3"/><circle cx="988" cy="643" r="3"/><circle cx="988" cy="654" r="3"/>
<circle cx="988" cy="676" r="3"/><circle cx="988" cy="687" r="3"/><circle cx="988" cy="698" r="3"/><circle cx="988" cy="709" r="3"/><circle cx="988" cy="720" r="3"/><circle cx="988" cy="731" r="3"/><circle cx="988" cy="742" r="3"/><circle cx="988" cy="754" r="3"/>
<circle cx="988" cy="776" r="3"/><circle cx="988" cy="787" r="3"/><circle cx="988" cy="798" r="3"/><circle cx="988" cy="809" r="3"/><circle cx="988" cy="820" r="3"/><circle cx="988" cy="831" r="3"/><circle cx="988" cy="842" r="3"/><circle cx="988" cy="853" r="3"/>
<circle cx="988" cy="875" r="3"/><circle cx="988" cy="886" r="3"/><circle cx="988" cy="897" r="3"/><circle cx="988" cy="908" r="3"/><circle cx="988" cy="919" r="3"/><circle cx="988" cy="930" r="3"/><circle cx="988" cy="941" r="3"/><circle cx="988" cy="952" r="3"/>
</g>
<g class="bx">
<rect x="995" y="338" width="8" height="8"/><rect x="1004" y="349" width="8" height="8"/><rect x="995" y="360" width="8" height="8"/><rect x="1004" y="371" width="8" height="8"/><rect x="995" y="382" width="8" height="8"/><rect x="1004" y="393" width="8" height="8"/><rect x="995" y="404" width="8" height="8"/><rect x="1004" y="416" width="8" height="8"/>
<rect x="1004" y="438" width="8" height="8"/><rect x="995" y="449" width="8" height="8"/><rect x="1004" y="460" width="8" height="8"/><rect x="995" y="471" width="8" height="8"/><rect x="1004" y="482" width="8" height="8"/><rect x="995" y="493" width="8" height="8"/><rect x="1004" y="504" width="8" height="8"/><rect x="995" y="515" width="8" height="8"/>
<rect x="995" y="573" width="8" height="8"/><rect x="1004" y="584" width="8" height="8"/><rect x="995" y="595" width="8" height="8"/><rect x="1004" y="606" width="8" height="8"/><rect x="995" y="617" width="8" height="8"/><rect x="1004" y="628" width="8" height="8"/><rect x="995" y="639" width="8" height="8"/><rect x="1004" y="650" width="8" height="8"/>
<rect x="1004" y="672" width="8" height="8"/><rect x="995" y="683" width="8" height="8"/><rect x="1004" y="694" width="8" height="8"/><rect x="995" y="705" width="8" height="8"/><rect x="1004" y="716" width="8" height="8"/><rect x="995" y="727" width="8" height="8"/><rect x="1004" y="738" width="8" height="8"/><rect x="995" y="750" width="8" height="8"/>
<rect x="995" y="772" width="8" height="8"/><rect x="1004" y="783" width="8" height="8"/><rect x="995" y="794" width="8" height="8"/><rect x="1004" y="805" width="8" height="8"/><rect x="995" y="816" width="8" height="8"/><rect x="1004" y="827" width="8" height="8"/><rect x="995" y="838" width="8" height="8"/><rect x="1004" y="849" width="8" height="8"/>
<rect x="1004" y="871" width="8" height="8"/><rect x="995" y="882" width="8" height="8"/><rect x="1004" y="893" width="8" height="8"/><rect x="995" y="904" width="8" height="8"/><rect x="1004" y="915" width="8" height="8"/><rect x="995" y="926" width="8" height="8"/><rect x="1004" y="937" width="8" height="8"/><rect x="995" y="948" width="8" height="8"/>
</g>
<g class="c">
<text x="999" y="344.6">7</text><text x="1008" y="355.6">6</text><text x="999" y="366.6">5</text><text x="1008" y="377.6">4</text><text x="999" y="388.6">3</text><text x="1008" y="399.6">2</text><text x="999" y="410.6">1</text><text x="1008" y="422.6">0</text>
<text x="1008" y="444.6">7</text><text x="999" y="455.6">6</text><text x="1008" y="466.6">5</text><text x="999" y="477.6">4</text><text x="1008" y="488.6">3</text><text x="999" y="499.6">2</text><text x="1008" y="510.6">1</text><text x="999" y="521.6">0</text>
<text x="999" y="579.6">7</text><text x="1008" y="590.6">6</text><text x="999" y="601.6">5</text><text x="1008" y="612.6">4</text><text x="999" y="623.6">3</text><text x="1008" y="634.6">2</text><text x="999" y="645.6">1</text><text x="1008" y="656.6">0</text>
<text x="1008" y="678.6">7</text><text x="999" y="689.6">6</text><text x="1008" y="700.6">5</text><text x="999" y="711.6">4</text><text x="1008" y="722.6">3</text><text x="999" y="733.6">2</text><text x="1008" y="744.6">1</text><text x="999" y="756.6">0</text>
<text x="999" y="778.6">7</text><text x="1008" y="789.6">6</text><text x="999" y="800.6">5</text><text x="1008" y="811.6">4</text><text x="999" y="822.6">3</text><text x="1008" y="833.6">2</text><text x="999" y="844.6">1</text><text x="1008" y="855.6">0</text>
<text x="1008" y="877.6">7</text><text x="999" y="888.6">6</text><text x="1008" y="899.6">5</text><text x="999" y="910.6">4</text><text x="1008" y="921.6">3</text><text x="999" y="932.6">2</text><text x="1008" y="943.6">1</text><text x="999" y="954.6">0</text>
</g>

<!-- brand -->
<text x="776" y="944" style="font-family:'Liberation Sans',sans-serif;font-size:22px;letter-spacing:4px;fill:#222;text-anchor:middle">PORCHESON</text>
<text x="776" y="978" style="font-family:'Liberation Sans',sans-serif;font-size:22px;letter-spacing:4px;fill:#222;text-anchor:middle">MC1200</text>

<!-- pulse port -->
<text x="952" y="1003" class="t" style="font-size:11px;text-anchor:middle">脉冲接口</text>
<rect x="886" y="1010" width="129" height="52" rx="2" fill="#7fcf63"/>
<rect x="903" y="1022" width="95" height="28" fill="#eeeee2"/>
<circle cx="910" cy="1036" r="3" fill="none" stroke="#aaa"/><circle cx="990" cy="1036" r="3" fill="none" stroke="#aaa"/>
<path d="M932 1029 H968 L972 1043 H928 Z" fill="#999"/>

<!-- ground symbol -->
<circle cx="1053" cy="1068" r="10" fill="none" stroke="#222" stroke-width="1.3"/>
<path d="M1045 1068 H1050 M1050 1063 V1073 M1054 1061 V1075 M1054 1068 H1058" stroke="#222" stroke-width="1.3"/>
<path d="M1066 1068 H1073" stroke="#222" stroke-width="1.2"/><path d="M1072 1065 L1077 1068 L1072 1071 Z" fill="#222"/>

<!-- bottom-left tables -->
<g class="ln" style="stroke:#333">
<rect x="552" y="995" width="70" height="40"/><line x1="552" y1="1022" x2="622" y2="1022"/>
<line x1="563.7" y1="995" x2="563.7" y2="1022"/><line x1="575.3" y1="995" x2="575.3" y2="1022"/><line x1="587" y1="995" x2="587" y2="1035"/><line x1="598.7" y1="995" x2="598.7" y2="1022"/><line x1="610.3" y1="995" x2="610.3" y2="1022"/>
</g>
<rect x="575.3" y="1042" width="11.7" height="26" fill="#222"/>
<g class="ln" style="stroke:#333">
<rect x="552" y="1042" width="70" height="40"/><line x1="552" y1="1068" x2="622" y2="1068"/>
<line x1="563.7" y1="1042" x2="563.7" y2="1068"/><line x1="575.3" y1="1042" x2="575.3" y2="1082"/><line x1="598.7" y1="1042" x2="598.7" y2="1068"/><line x1="610.3" y1="1042" x2="610.3" y2="1068"/>
</g>
<g class="v" style="font-size:7.5px;letter-spacing:.3px">
<text transform="translate(561,1020) rotate(-90)">B−</text><text transform="translate(572.5,1020) rotate(-90)">A+</text><text transform="translate(584,1020) rotate(-90)">SGND</text><text transform="translate(596,1020) rotate(-90)">⏚</text><text transform="translate(607.5,1020) rotate(-90)">24VG</text><text transform="translate(619,1020) rotate(-90)">+24V</text>
<text transform="translate(561,1066) rotate(-90)">DAC6</text><text transform="translate(572.5,1066) rotate(-90)">DAC5</text><text transform="translate(584,1066) rotate(-90)" style="fill:#fff">AGND</text><text transform="translate(596,1066) rotate(-90)">AD10</text><text transform="translate(607.5,1066) rotate(-90)">AD09</text><text transform="translate(619,1066) rotate(-90)" style="font-size:6.5px">24V/10V</text>
</g>
<g class="c"><text x="569" y="1031.5">RS485</text><text x="604" y="1031.5">POWER</text><text x="545" y="1031.5">12</text><text x="626" y="1031.5">7</text>
<text x="563" y="1078.5">±10V</text><text x="598" y="1078.5">压力检测</text><text x="546" y="1078.5">6</text><text x="626" y="1078.5">1</text></g>
<path d="M580 1082 L585 1082 L582.5 1086 Z" fill="#222"/>

<!-- IO ext -->
<rect x="735" y="1062" width="78" height="20" fill="none" stroke="#333" stroke-width=".8"/>
<text x="774" y="1077" class="t" style="font-size:12px;text-anchor:middle">I/O 扩展口</text>
<path d="M771.5 1082 L776.5 1082 L774 1086 Z" fill="#222"/>
</g>
</svg>
</body></html>
